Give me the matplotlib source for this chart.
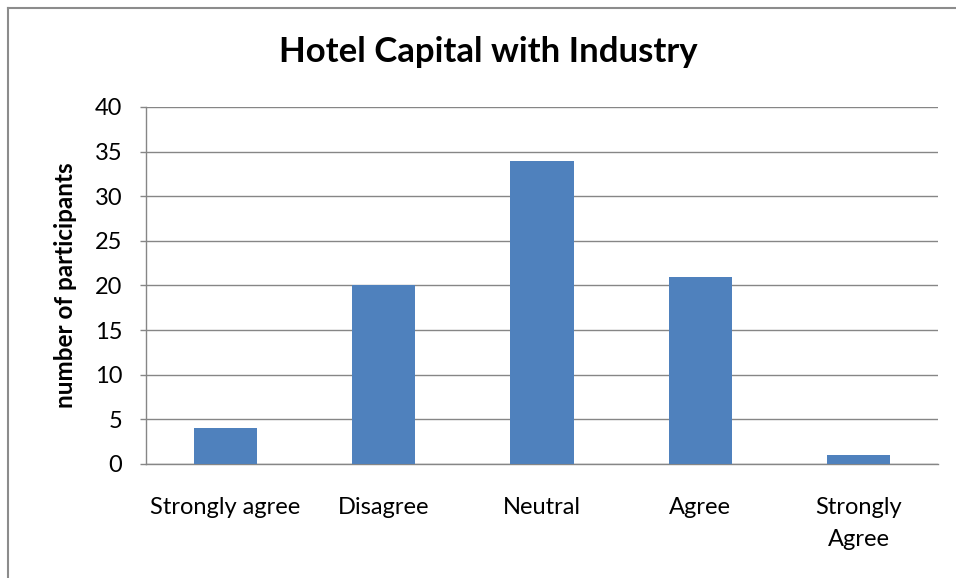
import matplotlib
matplotlib.use('Agg')
import matplotlib.pyplot as plt
from matplotlib.lines import Line2D

plt.rcParams['font.family'] = ['Lato', 'DejaVu Sans']

categories = ['Strongly agree', 'Disagree', 'Neutral', 'Agree', 'Strongly\nAgree']
participants = [4, 20, 34, 21, 1]
yticks = [0, 5, 10, 15, 20, 25, 30, 35, 40]

fig = plt.figure(figsize=(9.56, 5.78), dpi=100)
ax = fig.add_axes([146/956, 1 - 464/578, (938 - 146)/956, (464 - 107)/578])

x = range(len(categories))
ax.bar(x, participants, width=0.4, color='#4F81BD', zorder=3)

ax.set_xlim(-0.5, len(categories) - 0.5)
ax.set_ylim(0, 40)
ax.set_yticks(yticks)
ax.set_xticks(list(x))
ax.set_xticklabels(categories, fontsize=17, linespacing=1.6)
ax.tick_params(axis='y', labelsize=17, length=4, width=1, color='#868686', pad=13)
ax.tick_params(axis='x', length=0, pad=24)

ax.grid(axis='y', color='#868686', linewidth=1, zorder=0)
for side in ['top', 'right']:
	ax.spines[side].set_visible(False)
for side in ['left', 'bottom']:
	ax.spines[side].set_color('#868686')
	ax.spines[side].set_linewidth(1)

ax.set_ylabel('number of participants', fontsize=17.5, fontweight='bold', labelpad=13)
fig.text(488/956, 1 - 52/578, 'Hotel Capital with Industry', fontsize=25,
	fontweight='bold', ha='center', va='center')

# chart frame, open on the right and bottom
fig.add_artist(Line2D([7.5/956, 7.5/956], [0, 1 - 7.5/578], color='#8c8c8c', linewidth=1.5))
fig.add_artist(Line2D([7.5/956, 1], [1 - 7.5/578, 1 - 7.5/578], color='#8c8c8c', linewidth=1.5))

fig.savefig('out.png', dpi=100)
